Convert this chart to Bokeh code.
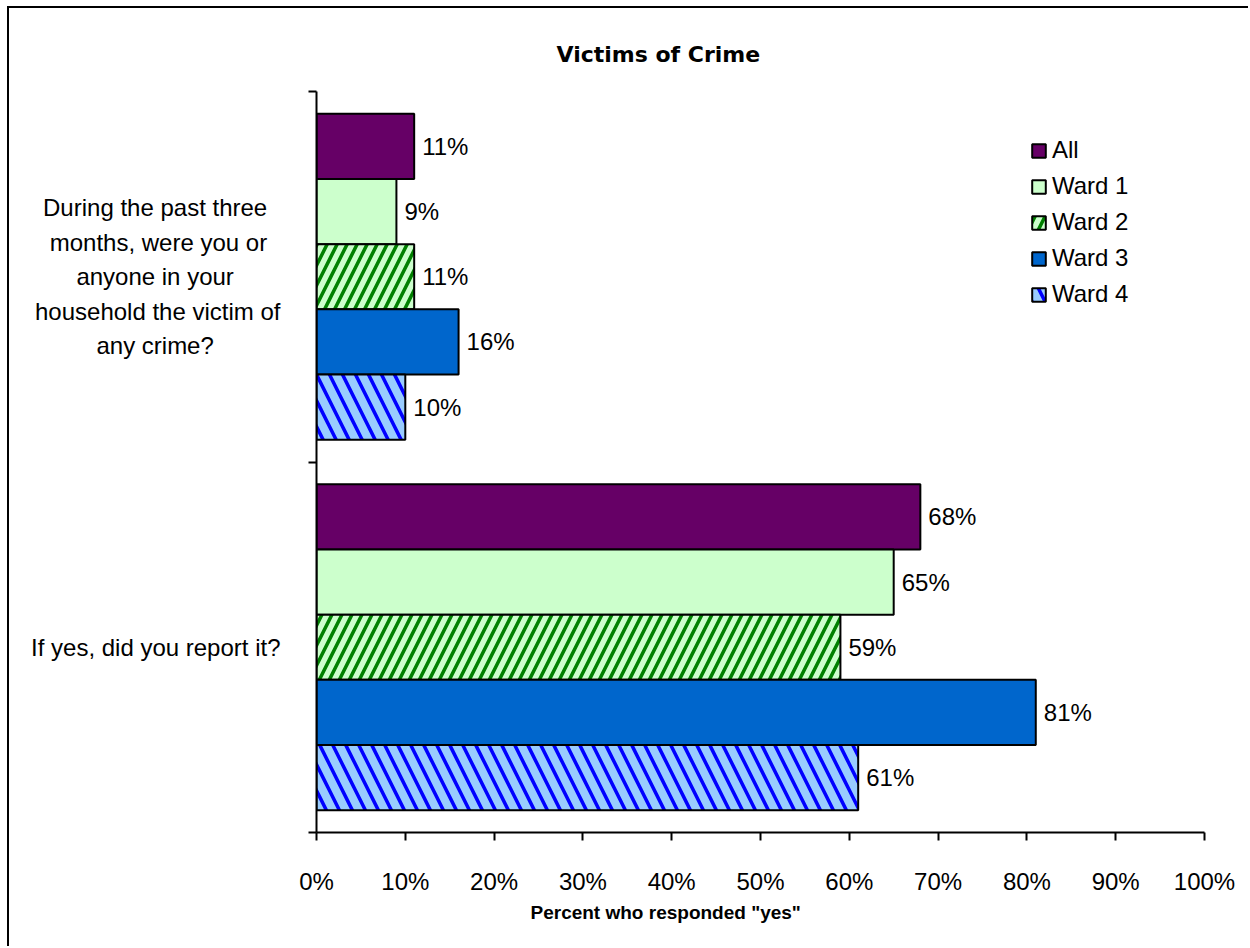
from bokeh.plotting import figure
from bokeh.models import Range1d, FixedTicker, Legend, LegendItem, ColumnDataSource, Title
from bokeh.core.properties import value
from bokeh.embed import file_html
from bokeh.resources import INLINE

# ---- data ----
question_lines = [
    ["During the past three", "months, were you or", "anyone in your",
     "household the victim of", "any crime?"],
    ["If yes, did you report it?"],
]
series = ["All", "Ward 1", "Ward 2", "Ward 3", "Ward 4"]
all_vals = [11, 68]
ward1_vals = [9, 65]
ward2_vals = [11, 59]
ward3_vals = [16, 81]
ward4_vals = [10, 61]
x_ticks = [0, 10, 20, 30, 40, 50, 60, 70, 80, 90, 100]
x_tick_labels = [f"{t}%" for t in x_ticks]

values_by_series = [all_vals, ward1_vals, ward2_vals, ward3_vals, ward4_vals]

# ---- styles ----
fills = ["#660066", "#CCFFCC", "#CCFFCC", "#0066CC", "#99CCFF"]
hatches = [None, None, "/", None, "\\"]
hatch_colors = [None, None, "#008000", None, "#0000FF"]
hatch_scales = [20, 20, 20, 20, 26]
# trailing non-breaking spaces so that right-anchored axis label lines look centred
line_pads = [[2, 2, 7, 0, 10], [0]]

FONT = "Liberation Sans"
FS = "24px"

p = figure(width=1241, height=940, output_backend="svg", toolbar_location=None,
           x_range=Range1d(0, 100), y_range=Range1d(0, 2),
           min_border_left=307, min_border_right=46, min_border_top=83, min_border_bottom=116)
p.styles = {"margin-left": "7px", "margin-top": "6px",
            "border-left": "2px solid black", "border-top": "2px solid black"}
p.outline_line_color = None
p.grid.visible = False
p.background_fill_color = "white"
p.border_fill_color = "white"

# title
p.title = Title(text="Victims of Crime", align="left", offset=240, standoff=50,
                text_font="DejaVu Sans", text_font_style="bold", text_font_size="22px",
                text_color="black")
# x axis title as a below-title so it can be offset like the original
p.add_layout(Title(text='Percent who responded "yes"', align="left", offset=214, standoff=4,
                   text_font=FONT, text_font_style="bold", text_font_size="19px",
                   text_color="black"), "below")

n_q = len(question_lines)
n_series = len(series)
group_frac = 0.88
h = group_frac / n_series

renderers = []
for si, (name, vals) in enumerate(zip(series, values_by_series)):
    ys = [(n_q - qi - 0.5) + (n_series // 2 - si) * h for qi in range(n_q)]
    src = ColumnDataSource(dict(y=ys, right=vals, lab=[f"{v}%" for v in vals]))
    kw = dict(fill_color=fills[si], line_color="black", line_width=2)
    if hatches[si]:
        kw.update(hatch_pattern=hatches[si], hatch_color=hatch_colors[si],
                  hatch_scale=hatch_scales[si], hatch_weight=3.5)
    r = p.hbar(y="y", left=0, right="right", height=h, source=src, **kw)
    renderers.append(r)
    p.text(x="right", y="y", text="lab", source=src, x_offset=8,
           text_baseline="middle", text_align="left", text_font=value(FONT),
           text_font_size=FS, text_color="black")

# x axis
xa = p.xaxis[0]
xa.ticker = FixedTicker(ticks=x_ticks)
xa.major_label_overrides = {t: l for t, l in zip(x_ticks, x_tick_labels)}
xa.major_label_text_font = FONT
xa.major_label_text_font_size = FS
xa.major_label_text_color = "black"
xa.major_tick_in = 0
xa.major_tick_out = 8
xa.minor_tick_in = 0
xa.minor_tick_out = 0
xa.axis_line_width = 2
xa.major_tick_line_width = 2
xa.major_label_standoff = 27

# y axis: category labels at group centres, tick marks at group boundaries
q_centers = [n_q - qi - 0.5 for qi in range(n_q)]
boundaries = list(range(n_q + 1))
q_labels = ["\n".join(line + "\u00a0" * pad for line, pad in zip(lines, pads))
            for lines, pads in zip(question_lines, line_pads)]
ya = p.yaxis[0]
ya.ticker = FixedTicker(ticks=q_centers, minor_ticks=boundaries)
ya.major_label_overrides = {c: q for c, q in zip(q_centers, q_labels)}
ya.major_label_text_font = FONT
ya.major_label_text_font_size = FS
ya.major_label_text_color = "black"
ya.major_label_text_line_height = 1.275
ya.major_label_standoff = 28
ya.major_tick_in = 0
ya.major_tick_out = 0
ya.minor_tick_in = 0
ya.minor_tick_out = 8
ya.minor_tick_line_width = 2
ya.minor_tick_line_color = "black"
ya.axis_line_width = 2

legend = Legend(items=[LegendItem(label=s, renderers=[r]) for s, r in zip(series, renderers)],
                location=(714, 524), orientation="vertical")
legend.border_line_color = None
legend.background_fill_alpha = 0
legend.padding = 0
legend.margin = 0
legend.spacing = 8
legend.glyph_width = 17
legend.glyph_height = 17
legend.label_height = 18
legend.label_standoff = 5
legend.label_text_font = FONT
legend.label_text_font_size = FS
legend.label_text_color = "black"
p.add_layout(legend)

open("out.html", "w").write(file_html(p, INLINE))
